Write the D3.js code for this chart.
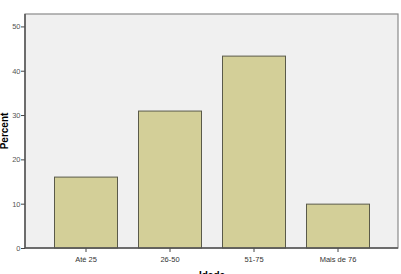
<!DOCTYPE html>
<html>
<head>
<meta charset="utf-8">
<script src="https://cdn.jsdelivr.net/npm/d3@7"></script>
<style>
  body { margin: 0; background: #fff; }
  .axis text { font-family: Arial, "Liberation Sans", sans-serif; font-size: 7.5px; fill: #333; }
  .axis path, .axis line { stroke: #444; }
</style>
</head>
<body>
<div id="chart"></div>
<script>
var categories = ["Até 25", "26-50", "51-75", "Mais de 76"];
var percents = [16.0, 30.9, 43.3, 9.9];
var yTicks = [0, 10, 20, 30, 40, 50];

var width = 401, height = 274;
var frame = {left: 25, right: 398, top: 14, bottom: 248};

var svg = d3.select("#chart")
    .append("svg")
    .attr("width", width)
    .attr("height", height);

// plot background
svg.append("rect")
    .attr("x", frame.left)
    .attr("y", frame.top)
    .attr("width", frame.right - frame.left)
    .attr("height", frame.bottom - frame.top)
    .attr("fill", "#f0f0f0")
    .attr("stroke", "#8a8a8a")
    .attr("stroke-width", 1.2);

var xScale = d3.scaleBand()
    .domain(categories)
    .range([44, 380])
    .paddingInner(0.25)
    .paddingOuter(0.125);

var yScale = d3.scaleLinear()
    .domain([0, 52.8])
    .range([frame.bottom, frame.top]);

svg.selectAll(".bar")
    .data(percents)
    .enter().append("rect")
    .attr("class", "bar")
    .attr("x", function (d, i) { return xScale(categories[i]); })
    .attr("width", xScale.bandwidth())
    .attr("y", function (d) { return yScale(d); })
    .attr("height", function (d) { return frame.bottom - yScale(d); })
    .attr("fill", "#d3cf98")
    .attr("stroke", "#5a5a4a")
    .attr("stroke-width", 1);

var xAxis = d3.axisBottom(xScale).tickSize(4).tickSizeOuter(0);
var gx = svg.append("g")
    .attr("class", "axis")
    .attr("transform", "translate(0," + frame.bottom + ")")
    .call(xAxis);
gx.select(".domain").remove();
gx.selectAll("text").attr("dy", "0.9em");

svg.append("line")
    .attr("x1", frame.left).attr("x2", frame.right)
    .attr("y1", frame.bottom).attr("y2", frame.bottom)
    .attr("stroke", "#555").attr("stroke-width", 1.5);

var yAxis = d3.axisLeft(yScale).tickValues(yTicks).tickSize(4).tickSizeOuter(0);
var gy = svg.append("g")
    .attr("class", "axis")
    .attr("transform", "translate(" + frame.left + ",0)")
    .call(yAxis);
gy.select(".domain").remove();
gy.selectAll("text").attr("x", -4.5).style("fill", "#555");

svg.append("line")
    .attr("x1", frame.left).attr("x2", frame.left)
    .attr("y1", frame.top).attr("y2", frame.bottom)
    .attr("stroke", "#555").attr("stroke-width", 1.5);

// axis titles
svg.append("text")
    .attr("transform", "translate(8,131) rotate(-90)")
    .attr("text-anchor", "middle")
    .style("font-family", "Arial, 'Liberation Sans', sans-serif")
    .style("font-size", "10px")
    .style("font-weight", "bold")
    .text("Percent");

svg.append("text")
    .attr("x", 212)
    .attr("y", 279)
    .attr("text-anchor", "middle")
    .style("font-family", "Arial, 'Liberation Sans', sans-serif")
    .style("font-size", "10px")
    .style("font-weight", "bold")
    .text("Idade");
</script>
</body>
</html>
